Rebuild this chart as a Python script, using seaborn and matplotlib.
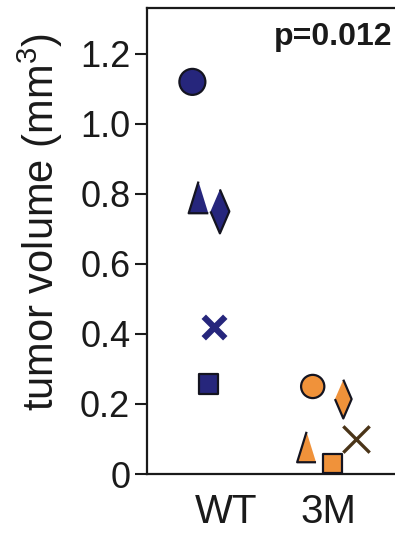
import matplotlib
matplotlib.use("Agg")
import matplotlib.pyplot as plt
import seaborn as sns
import pandas as pd

# ---- data ----
categories = ["WT", "3M"]
shapes = ["circle", "triangle", "diamond", "cross", "square"]
wt_values = [1.12, 0.79, 0.75, 0.42, 0.257]
m3_values = [0.25, 0.077, 0.214, 0.10, 0.031]
y_ticks = [0, 0.2, 0.4, 0.6, 0.8, 1.0, 1.2]
y_tick_labels = ["0", "0.2", "0.4", "0.6", "0.8", "1.0", "1.2"]
p_text = "p=0.012"
y_label = "tumor volume (mm$^3$)"

# ---- layout (horizontal spread of points within each category) ----
wt_spread = [-0.33, -0.27, -0.06, -0.12, -0.17]
m3_spread = [-0.15, -0.21, 0.15, 0.27, 0.04]

rows = []
for g, vals, spread in [("WT", wt_values, wt_spread), ("3M", m3_values, m3_spread)]:
    for sh, v, dx in zip(shapes, vals, spread):
        rows.append({"group": g, "shape": sh, "value": v, "xpos": categories.index(g) + dx})
df = pd.DataFrame(rows)

sns.set_style("ticks")
plt.rcParams["font.family"] = ["Liberation Sans", "DejaVu Sans"]
plt.rcParams["mathtext.fontset"] = "custom"
plt.rcParams["mathtext.rm"] = "Liberation Sans"

fig = plt.figure(figsize=(3.95, 5.34), dpi=100)
ax = fig.add_axes([147 / 395, 60 / 534, 1 - 147 / 395, (474 - 8) / 534])

colors = {"WT": "#26267c", "3M": "#f0923a"}
edge = "#141420"
tri = [(0, 1), (-0.62, -1), (0.62, -1)]
dia = [(0, 1), (0.43, 0), (0, -1), (-0.43, 0)]
markers = {"circle": "o", "triangle": tri, "diamond": dia, "square": "s"}

wt_sizes = {"circle": 350, "triangle": 520, "diamond": 1000, "square": 190}
m3_sizes = {"circle": 280, "triangle": 480, "diamond": 780, "square": 190}

filled = df[df["shape"] != "cross"]
for g, sz in [("WT", wt_sizes), ("3M", m3_sizes)]:
    sub = filled[filled["group"] == g]
    sns.scatterplot(data=sub, x="xpos", y="value", color=colors[g],
                    style="shape", markers=markers, size="shape", sizes=sz,
                    edgecolor=edge, linewidth=1.6, legend=False, ax=ax, zorder=3)

cross = df[df["shape"] == "cross"]
sns.scatterplot(data=cross[cross["group"] == "WT"], x="xpos", y="value",
                marker="x", color="#26267c", s=240, linewidth=4.5, legend=False, ax=ax, zorder=3)
sns.scatterplot(data=cross[cross["group"] == "3M"], x="xpos", y="value",
                marker="x", color="#4a3418", s=360, linewidth=2.4, legend=False, ax=ax, zorder=3)

ax.set_xlim(-0.775, 1.657)
ax.set_ylim(0, 1.331)
ax.set_yticks(y_ticks)
ax.set_yticklabels(y_tick_labels)
ax.set_xticks(range(len(categories)))
ax.set_xticklabels(categories)
ax.set_xlabel("")
ax.set_ylabel(y_label, fontsize=30, color="#1a1a1a")
ax.yaxis.set_label_coords(-0.43, 0.54)
ax.yaxis.label.set_verticalalignment("center")

ax.tick_params(axis="y", labelsize=26, length=9, width=1.5, pad=3, colors="#1a1a1a")
ax.tick_params(axis="x", labelsize=29, length=0, pad=14, colors="#1a1a1a")

for side in ["left", "bottom", "top"]:
    ax.spines[side].set_linewidth(1.6)
    ax.spines[side].set_color("#1a1a1a")
ax.spines["right"].set_visible(False)

ax.text(0.988, 0.9206, p_text, transform=ax.transAxes, ha="right", va="baseline",
        fontsize=23, fontweight="bold", color="#1a1a1a")

fig.savefig("out.png", dpi=100)
